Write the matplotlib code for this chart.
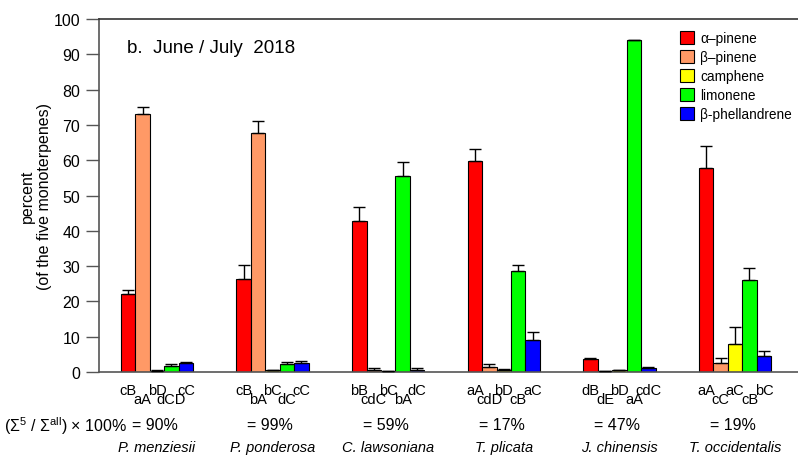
import numpy as np
import matplotlib.pyplot as plt
from matplotlib.patches import Patch

plt.rcParams['font.family'] = ['Liberation Sans', 'DejaVu Sans']
plt.rcParams['mathtext.fontset'] = 'custom'
plt.rcParams['mathtext.rm'] = 'Liberation Sans'
plt.rcParams['mathtext.it'] = 'Liberation Sans:italic'

species = ['P. menziesii', 'P. ponderosa', 'C. lawsoniana', 'T. plicata',
           'J. chinensis', 'T. occidentalis']
compounds = ['α–pinene', 'β–pinene', 'camphene', 'limonene', 'β-phellandrene']
colors = ['#ff0000', '#ff9966', '#ffff00', '#00ff00', '#0000ff']

# mean percent per species (rows) and compound (columns)
means = np.array([
    [22.1, 73.1, 0.4, 1.7, 2.5],
    [26.3, 67.8, 0.6, 2.3, 2.6],
    [42.7, 0.7, 0.2, 55.4, 0.7],
    [59.7, 1.4, 0.6, 28.7, 9.2],
    [3.7, 0.2, 0.5, 94.2, 1.2],
    [57.9, 2.6, 8.0, 26.2, 4.6],
])
# upper error (SE)
errs = np.array([
    [1.2, 1.9, 0.1, 0.5, 0.3],
    [4.1, 3.4, 0.1, 0.6, 0.6],
    [4.1, 0.4, 0.0, 4.1, 0.4],
    [3.6, 0.9, 0.3, 1.7, 2.0],
    [0.2, 0.0, 0.1, 0.0, 0.2],
    [6.1, 1.3, 4.7, 3.2, 1.3],
])
letters = [
    ['cB', 'aA', 'bD', 'dCD', 'cC'],
    ['cB', 'bA', 'bC', 'dC', 'cC'],
    ['bB', 'cdC', 'bC', 'bA', 'dC'],
    ['aA', 'cdD', 'bD', 'cB', 'aC'],
    ['dB', 'dE', 'bD', 'aA', 'cdC'],
    ['aA', 'cC', 'aC', 'cB', 'bC'],
]
share = ['90%', '99%', '59%', '17%', '47%', '19%']

fig = plt.figure(figsize=(7.98, 4.56), dpi=100)
ax = fig.add_axes([0.124, 0.182, 0.876, 0.774])

x = np.arange(len(species))
w = 0.125
for j in range(len(compounds)):
    pos = x + (j - 2) * w
    ax.bar(pos, means[:, j], width=w, color=colors[j], edgecolor='black',
           linewidth=0.8, label=compounds[j], zorder=2)
    ax.errorbar(pos, means[:, j], yerr=[np.zeros(len(x)), errs[:, j]],
                fmt='none', ecolor='black', elinewidth=1, capsize=4,
                capthick=1, zorder=3)

ax.set_xlim(-0.502, 5.545)
ax.set_ylim(0, 100)
ax.set_yticks(range(0, 101, 10))
ax.set_xticks([])
ax.tick_params(axis='y', direction='out', length=9.5, width=1, color='#555555',
               labelsize=11.5, pad=4)
ax.spines['right'].set_visible(False)
for s in ['top', 'left', 'bottom']:
    ax.spines[s].set_color('#555555')
    ax.spines[s].set_linewidth(1.2)
ax.spines['top'].set_color('#333333')

ax.set_ylabel('percent\n(of the five monoterpenes)', fontsize=11.5,
              labelpad=1, linespacing=1.15)
ax.text(0.04, 0.92, 'b.  June / July  2018', transform=ax.transAxes,
        fontsize=13.5, va='center', ha='left')

# significance letters, alternating high/low under each bar
tr = ax.get_xaxis_transform()
for i in range(len(species)):
    for j in range(len(compounds)):
        yy = -0.052 if j % 2 == 0 else -0.076
        ax.text(x[i] + (j - 2) * w, yy, letters[i][j], transform=tr,
                ha='center', va='center', fontsize=10.5, clip_on=False)
    ax.text(x[i] - 0.02, -0.150, '= ' + share[i], transform=tr,
            ha='center', va='center', fontsize=11.5)
    ax.text(x[i], -0.212, species[i], transform=tr, ha='center',
            va='center', fontsize=10.5, style='italic')

fig.text(127 / 798, 1 - 426 / 456,
         r'($\Sigma^{5}$ / $\Sigma^{\mathrm{all}}$) $\times$ 100%',
         ha='right', va='center', fontsize=11.5)

handles = [Patch(facecolor=c, edgecolor='black', linewidth=0.8) for c in colors]
ax.legend(handles, compounds, loc='upper left',
          bbox_to_anchor=(680 / 798, 1 - 32 / 456),
          bbox_transform=fig.transFigure, frameon=False, fontsize=9.8,
          handlelength=1.0, handleheight=1.1, handletextpad=0.5,
          labelspacing=0.36, borderaxespad=0, borderpad=0)

fig.savefig('out.png', dpi=100)
